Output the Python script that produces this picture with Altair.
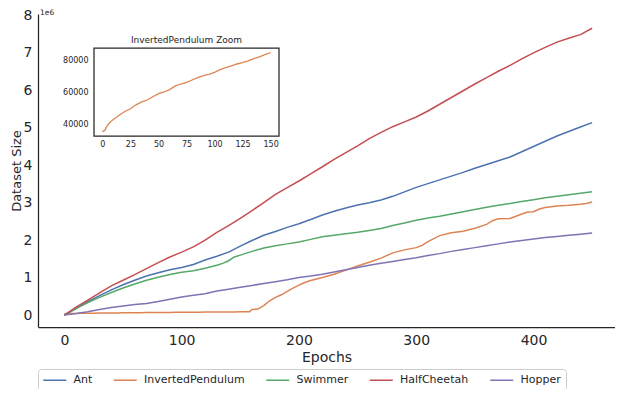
import altair as alt
import pandas as pd

envs = ["Ant", "InvertedPendulum", "Swimmer", "HalfCheetah", "Hopper"]
colors = ["#4C72B0", "#DD8452", "#55A868", "#C44E52", "#8172B3"]

# epochs every 10 (0..450)
epochs10 = [0, 10, 20, 30, 40, 50, 60, 70, 80, 90, 100, 110, 120, 130, 140, 150,
            160, 170, 180, 190, 200, 210, 220, 230, 240, 250, 260, 270, 280, 290,
            300, 310, 320, 330, 340, 350, 360, 370, 380, 390, 400, 410, 420, 430,
            440, 450]

ant = [0, .18, .36, .52, .67, .81, .93, 1.04, 1.13, 1.21, 1.27, 1.35, 1.47, 1.57,
       1.68, 1.84, 1.99, 2.13, 2.23, 2.34, 2.44, 2.55, 2.67, 2.77, 2.86, 2.94, 3.00,
       3.07, 3.17, 3.29, 3.41, 3.51, 3.61, 3.71, 3.81, 3.92, 4.02, 4.12, 4.22, 4.36,
       4.50, 4.64, 4.78, 4.90, 5.02, 5.14]

half_cheetah = [0, .21, .40, .59, .78, .93, 1.08, 1.24, 1.40, 1.55, 1.68, 1.82, 2.00,
                2.21, 2.39, 2.58, 2.79, 3.00, 3.22, 3.40, 3.58, 3.77, 3.96, 4.16, 4.34,
                4.52, 4.71, 4.88, 5.03, 5.16, 5.29, 5.45, 5.63, 5.81, 5.99, 6.17, 6.34,
                6.51, 6.67, 6.84, 7.00, 7.15, 7.29, 7.39, 7.49, 7.66]

hopper = [0, .04, .09, .15, .20, .24, .28, .31, .36, .42, .48, .53, .57, .64, .69,
          .74, .79, .84, .89, .94, 1.00, 1.04, 1.09, 1.15, 1.21, 1.27, 1.33, 1.38,
          1.43, 1.48, 1.53, 1.59, 1.64, 1.70, 1.75, 1.80, 1.85, 1.90, 1.95, 1.99,
          2.03, 2.07, 2.10, 2.13, 2.16, 2.19]

swimmer_epochs = [0, 10, 20, 30, 40, 50, 60, 70, 80, 90, 100, 110, 120, 130, 135,
                  140, 145, 150, 160, 170, 180, 190, 200, 210, 220, 230, 240, 250,
                  260, 270, 280, 290, 300, 310, 320, 330, 340, 350, 360, 370, 380,
                  390, 400, 410, 420, 430, 440, 450]
swimmer = [0, .17, .33, .47, .60, .72, .83, .93, 1.01, 1.08, 1.14, 1.18, 1.25, 1.33,
           1.38, 1.45, 1.55, 1.60, 1.70, 1.79, 1.85, 1.90, 1.95, 2.02, 2.09, 2.13,
           2.17, 2.21, 2.26, 2.31, 2.39, 2.46, 2.53, 2.59, 2.64, 2.70, 2.76, 2.82,
           2.88, 2.93, 2.98, 3.03, 3.08, 3.13, 3.17, 3.21, 3.25, 3.29]

# InvertedPendulum, first 150 epochs (raw dataset size, shown in the inset)
ip_zoom_epochs = [0, 2, 4, 6, 8, 10, 15, 20, 25, 30, 35, 40, 45, 50, 55, 60, 65, 70,
                  75, 80, 85, 90, 95, 100, 105, 110, 115, 120, 125, 130, 135, 140,
                  145, 150]
ip_zoom = [35200, 36000, 38500, 40500, 41800, 43000, 45500, 47800, 49500, 52000,
           53800, 55000, 57000, 59000, 60000, 61500, 63800, 65000, 66000, 67500,
           69000, 70300, 71000, 72300, 74000, 75300, 76300, 77500, 78300, 79500,
           80800, 82000, 83300, 84700]

# InvertedPendulum, later epochs (in millions)
ip_late_epochs = [155, 158, 160, 165, 170, 175, 180, 185, 190, 195, 200, 205, 210,
                  215, 220, 230, 240, 250, 260, 270, 280, 290, 300, 305, 310, 320,
                  330, 340, 350, 360, 365, 370, 380, 390, 395, 400, 405, 410, 420,
                  430, 440, 445, 450]
ip_late = [.087, .09, .15, .16, .25, .38, .47, .54, .63, .72, .80, .87, .92, .96,
           1.00, 1.09, 1.20, 1.31, 1.41, 1.52, 1.66, 1.74, 1.80, 1.86, 1.96, 2.12,
           2.20, 2.24, 2.32, 2.42, 2.52, 2.57, 2.58, 2.70, 2.75, 2.76, 2.83, 2.87,
           2.91, 2.93, 2.96, 2.98, 3.02]

x_ticks = [0, 100, 200, 300, 400]
y_ticks = [0, 1, 2, 3, 4, 5, 6, 7, 8]
inset_x_ticks = [0, 25, 50, 75, 100, 125, 150]
inset_y_ticks = [40000, 60000, 80000]

X_DOMAIN = [-22.5, 469.5]
Y_DOMAIN = [-0.32, 8.04]

rows = []
series = [
    ("Ant", epochs10, ant),
    ("InvertedPendulum", ip_zoom_epochs + ip_late_epochs,
     [v / 1e6 for v in ip_zoom] + ip_late),
    ("Swimmer", swimmer_epochs, swimmer),
    ("HalfCheetah", epochs10, half_cheetah),
    ("Hopper", epochs10, hopper),
]
for name, eps, vals in series:
    for e, v in zip(eps, vals):
        rows.append({"epoch": e, "size": v, "env": name})
df = pd.DataFrame(rows)

# scale-offset label ("1e6") anchored at the top-left corner of the axes
offset_df = pd.DataFrame({"t": ["1e6"], "epoch": [X_DOMAIN[0]], "size": [Y_DOMAIN[1]]})

inset_df = pd.DataFrame({"epoch": ip_zoom_epochs, "size": ip_zoom})
box_df = pd.DataFrame({"x0": [-7.5], "x1": [157.5], "y0": [32500], "y1": [87500]})
title_df = pd.DataFrame({"t": ["InvertedPendulum Zoom"], "x": [75], "y": [87500]})

TXT = "#262626"
W, H = 577, 313

x_scale = alt.Scale(domain=X_DOMAIN, nice=False, zero=False)
y_scale = alt.Scale(domain=Y_DOMAIN, nice=False, zero=False)
x_axis = alt.Axis(title="Epochs", values=x_ticks, labelFontSize=14,
                  titleFontSize=14, labelPadding=6, titlePadding=3,
                  orient="bottom", labelOverlap=False)
y_axis = alt.Axis(title="Dataset Size", values=y_ticks, format="d",
                  labelFontSize=14, titleFontSize=13, labelPadding=6,
                  titlePadding=0, orient="left", labelOverlap=False)

main_lines = alt.Chart(df).mark_line(strokeWidth=1.5).encode(
    x=alt.X("epoch:Q", scale=x_scale, axis=x_axis),
    y=alt.Y("size:Q", scale=y_scale, axis=y_axis),
    color=alt.Color("env:N", sort=envs,
                    scale=alt.Scale(domain=envs, range=colors),
                    legend=alt.Legend(title=None, orient="none", legendX=0,
                                      legendY=355, direction="horizontal",
                                      columns=5, symbolType="M-1,0H3",
                                      symbolSize=132, symbolStrokeWidth=1.5,
                                      labelFontSize=11, labelOffset=18,
                                      columnPadding=17.5, padding=4.5,
                                      fillColor="white", strokeColor="#cccccc",
                                      cornerRadius=3, labelColor=TXT)),
)
offset_text = alt.Chart(offset_df).mark_text(
    align="left", baseline="alphabetic", dx=2, dy=1, fontSize=7.5, color=TXT
).encode(
    x=alt.X("epoch:Q", scale=x_scale, axis=x_axis),
    y=alt.Y("size:Q", scale=y_scale, axis=y_axis),
    text="t:N",
)

main = alt.layer(main_lines, offset_text)

xs = alt.Scale(domain=[-7.5, 157.5], range=[56, 241], nice=False, zero=False)
ys = alt.Scale(domain=[32500, 87500], range=[122, 34], nice=False, zero=False)

box = alt.Chart(box_df).mark_rect(fill="white", stroke=TXT, strokeWidth=1.25).encode(
    x=alt.X("x0:Q", scale=xs,
            axis=alt.Axis(title=None, values=inset_x_ticks, orient="bottom",
                          offset=-(H - 122), labelFontSize=8, labelPadding=4,
                          domain=False)),
    x2="x1:Q",
    y=alt.Y("y0:Q", scale=ys,
            axis=alt.Axis(title=None, values=inset_y_ticks, format="d",
                          orient="left", offset=-56, labelFontSize=8,
                          labelPadding=6, domain=False)),
    y2="y1:Q",
)
inset_line = alt.Chart(inset_df).mark_line(strokeWidth=1.3, color=colors[1]).encode(
    x=alt.X("epoch:Q", scale=xs),
    y=alt.Y("size:Q", scale=ys),
)
inset_title = alt.Chart(title_df).mark_text(baseline="bottom", dy=-3, fontSize=9,
                                            color=TXT).encode(
    x=alt.X("x:Q", scale=xs),
    y=alt.Y("y:Q", scale=ys),
    text="t:N",
)
inset = alt.layer(box, inset_line, inset_title)

chart = alt.layer(main, inset).resolve_scale(
    x="independent", y="independent"
).properties(
    width=W, height=H,
    autosize=alt.AutoSizeParams(type="none"),
    padding={"left": 30, "top": 6, "right": 0, "bottom": 62},
).configure_axis(
    labelColor=TXT, titleColor=TXT, domainColor=TXT, domainWidth=1.25,
    ticks=False, grid=False, labelFont="DejaVu Sans", titleFont="DejaVu Sans",
    titleFontWeight="normal",
).configure_legend(
    labelFont="DejaVu Sans",
).configure_text(
    font="DejaVu Sans",
).configure_view(strokeWidth=0)

chart.save("out.html", embed_options={"renderer": "svg", "actions": False})
